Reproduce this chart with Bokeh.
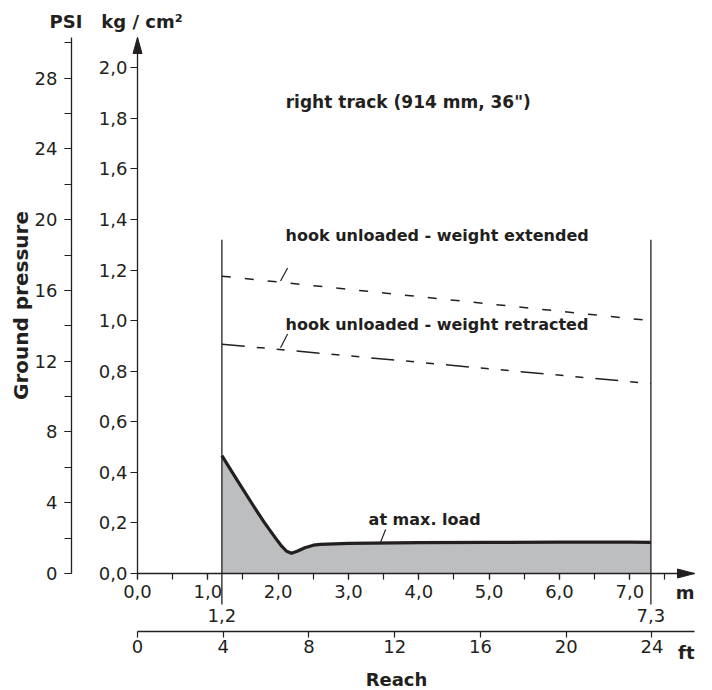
from bokeh.plotting import figure
from bokeh.models import Range1d, LinearAxis, SingleIntervalTicker, CustomJSTickFormatter
from bokeh.embed import file_html
from bokeh.resources import INLINE
from bokeh.core.properties import value

# ---------------- data ----------------
reach_load_m = [1.2, 1.35, 1.5, 1.65, 1.8, 1.95, 2.05, 2.12, 2.19, 2.27, 2.38, 2.5, 2.6, 3.0, 4.0, 5.0, 6.0, 7.0, 7.3]
pressure_load = [0.466, 0.399, 0.333, 0.267, 0.203, 0.145, 0.108, 0.088, 0.080, 0.088, 0.102, 0.112, 0.115, 0.119, 0.122, 0.123, 0.124, 0.124, 0.123]

reach_range_m = [1.2, 7.3]
pressure_extended = [1.176, 1.0]
pressure_retracted = [0.907, 0.751]
reach_limit_labels = ["1,2", "7,3"]

title_text = 'right track (914 mm, 36")'
label_extended = "hook unloaded - weight extended"
label_retracted = "hook unloaded - weight retracted"
label_load = "at max. load"

# ---------------- layout constants ----------------
W, H = 706, 690
FRAME_L, FRAME_T = 137, 37
FRAME_W, FRAME_H = 557, 536
X_END = 7.92          # m
Y_END = 2.12          # kg/cm2
PSI_END = 30.3
FT_END = X_END / 0.3048
PXM = FRAME_W / X_END
PXY = FRAME_H / Y_END
KG_AXIS_W = 67        # px between PSI axis and kg axis
M_AXIS_H = 59         # px between m axis and ft axis
TXT = 6 / PXY         # baseline correction for text glyphs

INK = "#231f20"
FONT = value("DejaVu Sans")

p = figure(width=W, height=H, x_range=Range1d(0, X_END), y_range=Range1d(0, Y_END),
           output_backend="svg", toolbar_location=None,
           min_border_left=FRAME_L, min_border_top=FRAME_T,
           min_border_right=W - FRAME_L - FRAME_W, min_border_bottom=H - FRAME_T - FRAME_H)
p.outline_line_color = None
p.grid.visible = False
p.background_fill_color = "white"

comma = CustomJSTickFormatter(code="return tick.toFixed(1).replace('.', ',')")
integer = CustomJSTickFormatter(code="return Math.round(tick).toString()")

def style_axis(ax):
    ax.axis_line_color = INK
    ax.axis_line_width = 1.3
    ax.major_tick_line_color = INK
    ax.minor_tick_line_color = INK
    ax.major_tick_line_width = 1.2
    ax.minor_tick_line_width = 1.2
    ax.major_tick_in = 0
    ax.minor_tick_in = 0
    ax.major_label_text_font = "DejaVu Sans"
    ax.major_label_text_font_size = "18px"
    ax.major_label_text_color = INK

# kg/cm2 axis (inner left)
kg = p.left[0]
style_axis(kg)
kg.ticker = SingleIntervalTicker(interval=0.2, num_minor_ticks=0)
kg.formatter = comma
kg.major_tick_out = 7
kg.minor_tick_out = 0
kg.major_label_standoff = 3
kg.axis_label = " "
kg.axis_label_text_font_size = "10px"
kg.axis_label_standoff = 10

# m axis (inner bottom)
mx = p.below[0]
style_axis(mx)
mx.ticker = SingleIntervalTicker(interval=1, num_minor_ticks=2)
mx.formatter = comma
mx.major_tick_out = 6
mx.minor_tick_out = 6
mx.major_label_standoff = 5
mx.axis_label = " "
mx.axis_label_text_font_size = "10px"
mx.axis_label_standoff = 17

# PSI axis (outer left)
p.extra_y_ranges = {"psi": Range1d(0, PSI_END)}
psi = LinearAxis(y_range_name="psi", ticker=SingleIntervalTicker(interval=4, num_minor_ticks=2),
                 formatter=integer, axis_label="Ground pressure")
style_axis(psi)
psi.major_tick_out = 7
psi.minor_tick_out = 7
psi.major_label_standoff = 7
psi.axis_label_text_font = "DejaVu Sans"
psi.axis_label_text_font_style = "bold"
psi.axis_label_text_font_size = "20px"
psi.axis_label_text_color = INK
psi.axis_label_standoff = -1
p.add_layout(psi, "left")

# ft axis (outer bottom)
p.extra_x_ranges = {"ft": Range1d(0, FT_END)}
ft = LinearAxis(x_range_name="ft", ticker=SingleIntervalTicker(interval=4, num_minor_ticks=0),
                formatter=integer)
style_axis(ft)
ft.major_tick_out = 6
ft.minor_tick_out = 0
ft.major_label_standoff = 2
p.add_layout(ft, "below")

# ---------------- marks ----------------
p.varea(x=reach_load_m, y1=[0] * len(reach_load_m), y2=pressure_load, fill_color="#bdbec0")
p.line(reach_load_m, pressure_load, line_color=INK, line_width=3.2, line_join="round")

p.line(reach_range_m, pressure_extended, line_color=INK, line_width=1.5, line_dash="9 14")
p.line(reach_range_m, pressure_retracted, line_color=INK, line_width=1.5, line_dash="23 12 8 12 8 12")

# boundary verticals (extend below the m axis)
v_bottom = -31 / PXY
v_top = 1.32
p.segment(x0=reach_range_m, y0=[v_bottom] * 2, x1=reach_range_m, y1=[v_top] * 2,
          line_color=INK, line_width=1.3, level="overlay")
p.text(x=reach_range_m, y=[-48 / PXY + TXT] * 2, text=reach_limit_labels, text_font=FONT,
       text_font_size="18px", text_color=INK, text_align="center", text_baseline="alphabetic",
       level="overlay")

# leader ticks
p.segment(x0=[2.034, 2.034, 3.457], y0=[1.157, 0.893, 0.124],
          x1=[2.134, 2.134, 3.528], y1=[1.208, 0.947, 0.174],
          line_color=INK, line_width=1.2)

# curve labels
p.text(x=[2.105, 2.105, 3.286], y=[1.313 + TXT, 0.963 + TXT, 0.19 + TXT],
       text=[label_extended, label_retracted, label_load],
       text_font=FONT, text_font_style="bold", text_font_size="16px", text_color=INK,
       text_align="left", text_baseline="alphabetic")
p.text(x=[3.85], y=[1.843 + TXT], text=[title_text], text_font=FONT, text_font_style="bold",
       text_font_size="17px", text_color=INK, text_align="center", text_baseline="alphabetic")

# axis titles / units
psi_x = -KG_AXIS_W / PXM
ft_y = -M_AXIS_H / PXY
p.text(x=[psi_x - 4.5 / PXM, 0.064], y=[(573 - 27.3) / PXY + TXT] * 2, text=["PSI", "kg / cm²"],
       text_font=FONT, text_font_style="bold", text_font_size="18px", text_color=INK,
       text_align="center", text_baseline="alphabetic", level="overlay")
p.text(x=[X_END, X_END], y=[-25 / PXY + TXT, -85 / PXY + TXT], text=["m", "ft"],
       text_font=FONT, text_font_style="bold", text_font_size="18px", text_color=INK,
       text_align="right", text_baseline="alphabetic", level="overlay")
p.text(x=[259 / PXM], y=[-112 / PXY + TXT], text=["Reach"],
       text_font=FONT, text_font_style="bold", text_font_size="18px", text_color=INK,
       text_align="center", text_baseline="alphabetic", level="overlay")

# arrow heads at the axis ends
vl, vw = 16 / PXY, 4.5 / PXM
hl, hw = 17 / PXM, 4.5 / PXY
heads_x = [
    [0 - vw, 0, 0 + vw],
    [psi_x - vw, psi_x, psi_x + vw],
    [X_END - hl, X_END, X_END - hl],
    [X_END - hl, X_END, X_END - hl],
]
heads_y = [
    [Y_END - vl, Y_END, Y_END - vl],
    [Y_END - vl, Y_END, Y_END - vl],
    [0 - hw, 0, 0 + hw],
    [ft_y - hw, ft_y, ft_y + hw],
]
p.patches(heads_x, heads_y, fill_color=INK, line_color=INK, line_width=1, level="overlay")

open("out.html", "w").write(file_html(p, INLINE))
